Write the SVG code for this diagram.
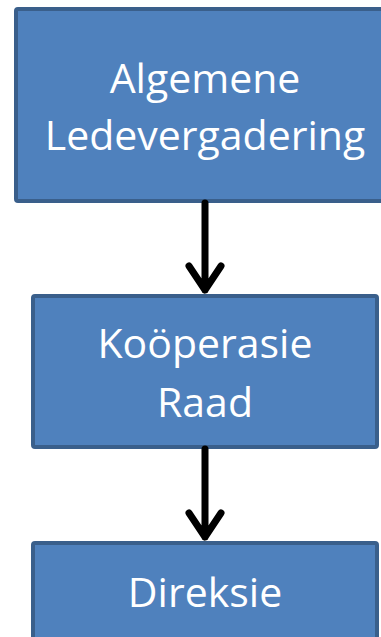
<svg xmlns="http://www.w3.org/2000/svg" width="381" height="637" viewBox="0 0 381 637">
<style>
.box{fill:#4F81BD;stroke:#3A5F8B;stroke-width:4}
.t{font-family:"Open Sans","Liberation Sans",sans-serif;font-size:41px;fill:#fff;text-anchor:middle}
.c{stroke:#000;stroke-width:7;fill:none;stroke-linecap:round;stroke-linejoin:round}
</style>
<rect width="381" height="637" fill="#fff"/>
<g id="node-algemene">
<rect class="box" x="16" y="9" width="380" height="192" rx="2"/>
<text class="t" x="205" y="93">Algemene</text>
<text class="t" x="205" y="150">Ledevergadering</text>
</g>
<g id="node-raad">
<rect class="box" x="33" y="296" width="344" height="151" rx="2"/>
<text class="t" x="205" y="358">Koöperasie</text>
<text class="t" x="205" y="417">Raad</text>
</g>
<g id="node-direksie">
<rect class="box" x="33" y="543" width="344" height="110" rx="2"/>
<text class="t" x="205" y="607">Direksie</text>
</g>
<g id="connectors">
<path class="c" d="M205 203V290M189 266L205 290L221 266" stroke-linecap="butt"/>
<path class="c" d="M205 449V537M189 513L205 537L221 513"/>
</g>
</svg>
